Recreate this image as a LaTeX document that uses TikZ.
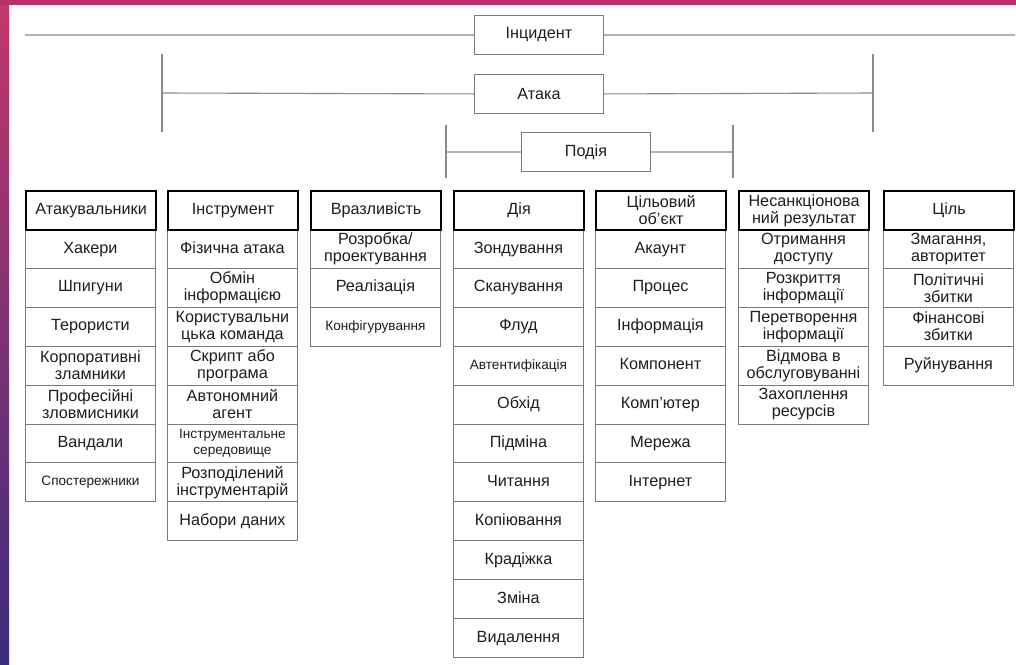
\documentclass[tikz,border=0pt]{standalone}
\usepackage{fontspec}
\setmainfont{Liberation Sans}
\definecolor{ink}{HTML}{1E1E1E}
\definecolor{rowgray}{HTML}{7A7A7A}
\definecolor{linegray}{HTML}{8A8A8A}
\definecolor{bandtop}{HTML}{C2386A}
\definecolor{bandbot}{HTML}{3A2C7C}
\definecolor{topband}{HTML}{B53468}
\begin{document}
\begin{tikzpicture}[x=1pt,y=-1pt,
  cell/.style={draw=rowgray, line width=0.9pt, minimum width=130pt,
    minimum height=38.9pt, inner sep=0pt, anchor=north west, align=center,
    font=\fontsize{16.2}{17}\selectfont, text=ink},
  % r1/s1: one line of regular/small text, r2/s2: two lines
  r1/.style={text height=11.8pt, text depth=3.6pt},
  r2/.style={},
  s1/.style={font=\fontsize{13.6}{16}\selectfont, text height=9.9pt,
    text depth=3pt},
  s2/.style={font=\fontsize{13.6}{16}\selectfont},
  head/.style={cell, draw=black, line width=2.2pt},
  topbox/.style={draw=rowgray, line width=0.9pt, minimum width=129pt,
    minimum height=39pt, inner sep=0pt, anchor=north west,
    font=\fontsize{16.2}{17}\selectfont, text=ink},
  link/.style={draw=linegray, line width=1.1pt}]

% page and slide frame
\useasboundingbox (0,0) rectangle (1016,664);
\fill[white] (0,0) rectangle (1016,664);
\shade[top color=bandtop, bottom color=bandbot] (0,0) rectangle (9,664);
\fill[topband] (0,0) rectangle (1016,5);

% hierarchy boxes
\node[topbox] (inc) at (474,15) {Інцидент};
\node[topbox] (att) at (474,74) {Атака};
\node[topbox] (evt) at (521,132) {Подія};

% incident span
\coordinate (incL) at (25,35);
\coordinate (incR) at (1015,35);
\draw[link] (inc.west) -- (incL);
\draw[link] (inc.east) -- (incR);

% attack span with end bars
\coordinate (attL) at (162,93);
\coordinate (attR) at (873,93);
\coordinate (attLt) at (162,54);
\coordinate (attLb) at (162,132);
\coordinate (attRt) at (873,54);
\coordinate (attRb) at (873,132);
\draw[link] (att.west) -- (attL);
\draw[link] (att.east) -- (attR);
\draw[link] (attLt) -- (attLb);
\draw[link] (attRt) -- (attRb);

% event span with end bars
\coordinate (evtL) at (446,152);
\coordinate (evtR) at (733,152);
\coordinate (evtLt) at (446,125);
\coordinate (evtLb) at (446,178);
\coordinate (evtRt) at (733,125);
\coordinate (evtRb) at (733,178);
\draw[link] (evt.west) -- (evtL);
\draw[link] (evt.east) -- (evtR);
\draw[link] (evtLt) -- (evtLb);
\draw[link] (evtRt) -- (evtRb);

% column 1: attackers
\foreach [count=\k] \t/\f in {Хакери/r1, Шпигуни/r1, Терористи/r1,
    {Корпоративні\\зламники}/r2, {Професійні\\зловмисники}/r2,
    Вандали/r1, Спостережники/s1}
  \node[cell,\f] (atk\k) at (25,{229+(\k-1)*38.9}) {\t};
\node[head,r1] (atk) at (25,190) {Атакувальники};

% column 2: tools
\foreach [count=\k] \t/\f in {Фізична атака/r1, {Обмін\\інформацією}/r2,
    {Користувальни\\цька команда}/r2, {Скрипт або\\програма}/r2,
    {Автономний\\агент}/r2, {Інструментальне\\середовище}/s2,
    {Розподілений\\інструментарій}/r2, Набори даних/r1}
  \node[cell,\f] (ins\k) at (167,{229+(\k-1)*38.9}) {\t};
\node[head,r1] (ins) at (167,190) {Інструмент};

% column 3: vulnerability
\foreach [count=\k] \t/\f in {{Розробка/\\проектування}/r2,
    Реалізація/r1, Конфігурування/s1}
  \node[cell,\f] (vul\k) at (310,{229+(\k-1)*38.9}) {\t};
\node[head,r1] (vul) at (310,190) {Вразливість};

% column 4: action
\foreach [count=\k] \t/\f in {Зондування/r1, Сканування/r1, Флуд/r1,
    Автентифікація/s1, Обхід/r1, Підміна/r1, Читання/r1,
    Копіювання/r1, Крадіжка/r1, Зміна/r1, Видалення/r1}
  \node[cell,\f] (act\k) at (453,{229+(\k-1)*38.9}) {\t};
\node[head,r1] (act) at (453,190) {Дія};

% column 5: target object
\foreach [count=\k] \t in {Акаунт, Процес, Інформація, Компонент, Комп’ютер,
    Мережа, Інтернет}
  \node[cell,r1] (obj\k) at (595,{229+(\k-1)*38.9}) {\t};
\node[head] (obj) at (595,190) {Цільовий\\об’єкт};

% column 6: unauthorized result
\foreach [count=\k] \t in {{Отримання\\доступу}, {Розкриття\\інформації},
    {Перетворення\\інформації}, {Відмова в\\обслуговуванні},
    {Захоплення\\ресурсів}}
  \node[cell,r2] (res\k) at (738,{229+(\k-1)*38.9}) {\t};
\node[head] (res) at (738,190) {Несанкціонова\\ний результат};

% column 7: objective
\foreach [count=\k] \t/\f in {{Змагання,\\авторитет}/r2, {Політичні\\збитки}/r2,
    {Фінансові\\збитки}/r2, Руйнування/r1}
  \node[cell,\f] (goal\k) at (883,{229+(\k-1)*38.9}) {\t};
\node[head,r1] (goal) at (883,190) {Ціль};
\end{tikzpicture}
\end{document}
